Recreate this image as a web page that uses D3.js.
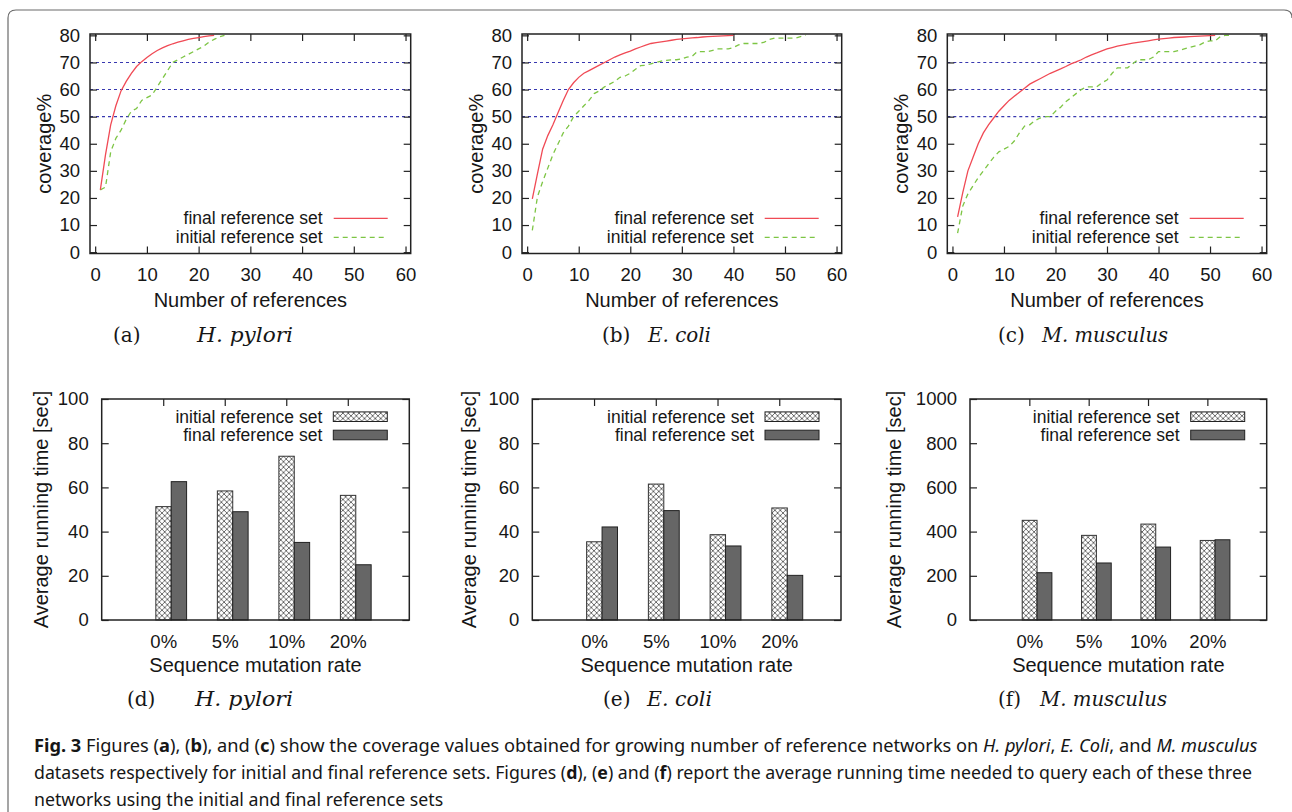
<!DOCTYPE html>
<html>
<head>
<meta charset="utf-8">
<script src="https://cdn.jsdelivr.net/npm/d3@7"></script>
<style>
body { margin: 0; background: #fff; }
svg text { font-family: "Liberation Sans", Arial, Helvetica, sans-serif; fill: #161616; }
svg text.serif { font-family: "DejaVu Serif", "Liberation Serif", serif; }
svg text.cap { font-family: "Noto Sans", "Open Sans", sans-serif; }
</style>
</head>
<body>
<svg id="fig" width="1292" height="812"></svg>
<script>
// ---- data ----
var refTicks = [0, 10, 20, 30, 40, 50, 60];
var coverageTicks = [0, 10, 20, 30, 40, 50, 60, 70, 80];
var coverageLevels = [50, 60, 70];

// coverage% for 1..N references
var hpyloriFinal = [23, 36, 47, 54, 59.5, 63, 66, 68.5, 70.3, 71.8, 73.2, 74.4, 75.4, 76.2, 76.9,
    77.5, 78, 78.5, 78.9, 79.2, 79.5, 79.8, 80];
var hpyloriInitial = [23, 24, 37, 42, 45, 49, 52, 53, 56, 57, 58, 61, 64, 67, 70, 71, 72, 73, 74,
    75, 76, 77.5, 78.5, 79.5, 80];
var ecoliFinal = [19.7, 29, 38, 43, 47, 51.5, 56, 60, 62.5, 64.5, 66, 67, 68, 69, 70, 71, 72, 72.8,
    73.5, 74.2, 75, 75.7, 76.4, 77, 77.3, 77.6, 77.9, 78.2, 78.5, 78.7, 78.9, 79.1, 79.2, 79.4,
    79.5, 79.6, 79.7, 79.8, 79.9, 80];
var ecoliInitial = [8, 20.5, 26, 31, 36, 40, 44, 46.5, 50, 52, 54, 56, 58.5, 59.5, 61, 62, 63, 64.5,
    65, 66, 67.5, 68.8, 69, 69.5, 70, 70.5, 70.8, 71, 71, 71.3, 72, 72.3, 74, 74, 74, 74.5, 75, 75,
    75, 75.5, 76.5, 77, 77, 77, 77, 77.5, 78.5, 79, 79, 79, 79, 79, 79.5, 80];
var musculusFinal = [13, 22, 30, 35, 40, 44, 47, 49.5, 52, 54, 56, 57.5, 59, 60.5, 62, 63, 64, 65,
    66, 66.8, 67.6, 68.5, 69.5, 70.2, 71, 72, 72.8, 73.5, 74.3, 75, 75.5, 76, 76.4, 76.8, 77.1,
    77.4, 77.7, 78, 78.3, 78.6, 78.8, 79, 79.2, 79.3, 79.4, 79.5, 79.6, 79.7, 79.8, 79.9, 80];
var musculusInitial = [7, 17, 21.5, 24.5, 27.5, 30, 32.5, 35, 37, 38, 39, 41, 44, 46.5, 47, 48.5,
    49.5, 50, 50, 52, 53.5, 55.5, 57, 58.5, 60, 61, 61, 61, 62.5, 63.5, 66, 68, 68, 68, 69.5, 71,
    71, 71, 72, 74, 74, 74, 74, 74.5, 75, 75.5, 76, 76.5, 77.5, 78, 78, 79.5, 80, 80];

// average running time [sec]
var mutationRates = ["0%", "5%", "10%", "20%"];
var hpyloriTimeInitial = [51.3, 58.4, 74.1, 56.4];
var hpyloriTimeFinal = [62.6, 49, 35.1, 25];
var ecoliTimeInitial = [35.4, 61.5, 38.6, 50.7];
var ecoliTimeFinal = [42.1, 49.5, 33.5, 20.2];
var musculusTimeInitial = [451, 383, 434, 360];
var musculusTimeFinal = [214, 258, 330, 363];
var timeTicksSmall = [0, 20, 40, 60, 80, 100];
var timeTicksLarge = [0, 200, 400, 600, 800, 1000];

var legendNames = ["final reference set", "initial reference set"];

var svg = d3.select("#fig");

// Outer frame with rounded corners
svg.append("path")
    .attr("d", "M8,812 V18 Q8,10 16,10 H1284 Q1292,10 1292,18")
    .attr("fill", "none")
    .attr("stroke", "#6a6a6a")
    .attr("stroke-width", 1.2);

// Cross-hatch pattern for the initial set bars
var defs = svg.append("defs");
var pat = defs.append("pattern")
    .attr("id", "hatch")
    .attr("patternUnits", "userSpaceOnUse")
    .attr("width", 5.4).attr("height", 5.4);
pat.append("rect").attr("width", 5.4).attr("height", 5.4).attr("fill", "#fff");
pat.append("path").attr("d", "M0,0L5.4,5.4M5.4,0L0,5.4")
    .attr("stroke", "#4a4a4a").attr("stroke-width", 0.8);

function styleAxis(sel, size) {
    sel.attr("color", "#222");
    sel.select(".domain").remove();
    sel.selectAll("line").attr("stroke-width", 1.2);
    sel.selectAll("text").style("font-size", size + "px").attr("fill", "#161616");
}

function subCaption(p) {
    svg.append("text").attr("class", "serif")
        .attr("x", p.capX).attr("y", p.capY)
        .style("font-size", "20px").text(p.letter);
    svg.append("text").attr("class", "serif")
        .attr("x", p.spX).attr("y", p.capY)
        .attr("textLength", p.spW).attr("lengthAdjust", "spacingAndGlyphs")
        .style("font-size", "19.5px").style("font-style", "italic").text(p.species);
}

// Coverage vs number of references
function coveragePanel(p) {
    var g = svg.append("g");
    var x = d3.scaleLinear().domain([-1, 61]).range([p.left, p.right]);
    var y = d3.scaleLinear().domain([-0.5, 80.5]).range([p.bottom, p.top]);

    g.selectAll(".level").data(coverageLevels).enter().append("line")
        .attr("x1", p.left).attr("x2", p.right)
        .attr("y1", function (d) { return y(d); })
        .attr("y2", function (d) { return y(d); })
        .attr("stroke", "#3838b0").attr("stroke-width", 1.1)
        .attr("stroke-dasharray", "3,3");

    g.append("g").attr("transform", "translate(" + p.left + ",0)")
        .call(d3.axisLeft(y).tickValues(coverageTicks).tickSize(-7).tickPadding(10))
        .call(styleAxis, 18.5);
    g.append("g").attr("transform", "translate(" + p.right + ",0)")
        .call(d3.axisRight(y).tickValues(coverageTicks).tickSize(-7).tickFormat(""))
        .call(styleAxis, 18.5);
    g.append("g").attr("transform", "translate(0," + p.bottom + ")")
        .call(d3.axisBottom(x).tickValues(refTicks).tickSize(-7).tickPadding(14))
        .call(styleAxis, 18.5);
    g.append("g").attr("transform", "translate(0," + p.top + ")")
        .call(d3.axisTop(x).tickValues(refTicks).tickSize(-7).tickFormat(""))
        .call(styleAxis, 18.5);

    var line = d3.line()
        .x(function (d, i) { return x(i + 1); })
        .y(function (d) { return y(d); });

    g.append("path").datum(p.initial).attr("d", line)
        .attr("fill", "none").attr("stroke", "#7dc544").attr("stroke-width", 1.3)
        .attr("stroke-dasharray", "5,4");
    g.append("path").datum(p.final).attr("d", line)
        .attr("fill", "none").attr("stroke", "#f04a55").attr("stroke-width", 1.3);

    g.append("rect")
        .attr("x", p.left).attr("y", p.top)
        .attr("width", p.right - p.left).attr("height", p.bottom - p.top)
        .attr("fill", "none").attr("stroke", "#222").attr("stroke-width", 1.5);

    // legend
    var rows = [
        { name: legendNames[0], y: p.bottom - 35.2, color: "#f04a55", dash: null },
        { name: legendNames[1], y: p.bottom - 16.2, color: "#7dc544", dash: "5,4" }
    ];
    rows.forEach(function (r) {
        g.append("text").attr("x", p.right - 88).attr("y", r.y).attr("dy", "0.35em")
            .attr("text-anchor", "end").style("font-size", "17.5px").text(r.name);
        g.append("line").attr("x1", p.right - 77).attr("x2", p.right - 23)
            .attr("y1", r.y).attr("y2", r.y)
            .attr("stroke", r.color).attr("stroke-width", 1.3)
            .attr("stroke-dasharray", r.dash);
    });

    g.append("text")
        .attr("transform", "translate(" + (p.left - 46) + "," + ((p.top + p.bottom) / 2) + ") rotate(-90)")
        .attr("text-anchor", "middle").attr("dy", "0.35em")
        .style("font-size", "20px").text("coverage%");
    g.append("text")
        .attr("x", (p.left + p.right) / 2).attr("y", 307)
        .attr("text-anchor", "middle").style("font-size", "20px")
        .text("Number of references");

    subCaption(p);
}

// Average running time bars
function timePanel(p) {
    var g = svg.append("g");
    var x = d3.scaleLinear().domain([-1, 4]).range([p.left, p.right]);
    var y = d3.scaleLinear().domain([0, p.max]).range([p.bottom, p.top]);

    g.append("g").attr("transform", "translate(" + p.left + ",0)")
        .call(d3.axisLeft(y).tickValues(p.ticks).tickSize(-7).tickPadding(13).tickFormat(d3.format("d")))
        .call(styleAxis, 18.5);
    g.append("g").attr("transform", "translate(" + p.right + ",0)")
        .call(d3.axisRight(y).tickValues(p.ticks).tickSize(-7).tickFormat(""))
        .call(styleAxis, 18.5);
    g.append("g").attr("transform", "translate(0," + p.top + ")")
        .call(d3.axisTop(x).tickValues([0, 1, 2, 3]).tickSize(-7).tickFormat(""))
        .call(styleAxis, 18.5);
    g.append("g").attr("transform", "translate(0," + p.bottom + ")")
        .call(d3.axisBottom(x).tickValues([0, 1, 2, 3]).tickSize(0).tickPadding(15)
            .tickFormat(function (d) { return mutationRates[d]; }))
        .call(styleAxis, 18.5);

    g.selectAll(".binit").data(p.initial).enter().append("rect")
        .attr("x", function (d, i) { return x(i - 0.12); })
        .attr("width", x(0.25) - x(0))
        .attr("y", function (d) { return y(d); })
        .attr("height", function (d) { return y(0) - y(d); })
        .attr("fill", "url(#hatch)").attr("stroke", "#333").attr("stroke-width", 1);
    g.selectAll(".bfin").data(p.final).enter().append("rect")
        .attr("x", function (d, i) { return x(i + 0.13); })
        .attr("width", x(0.25) - x(0))
        .attr("y", function (d) { return y(d); })
        .attr("height", function (d) { return y(0) - y(d); })
        .attr("fill", "#666").attr("stroke", "#222").attr("stroke-width", 1);

    g.append("rect")
        .attr("x", p.left).attr("y", p.top)
        .attr("width", p.right - p.left).attr("height", p.bottom - p.top)
        .attr("fill", "none").attr("stroke", "#222").attr("stroke-width", 1.5);

    // legend
    var rows = [
        { name: legendNames[1], y: p.top + 17.7, fill: "url(#hatch)" },
        { name: legendNames[0], y: p.top + 36, fill: "#666" }
    ];
    rows.forEach(function (r) {
        g.append("text").attr("x", p.right - 87).attr("y", r.y).attr("dy", "0.35em")
            .attr("text-anchor", "end").style("font-size", "17.5px").text(r.name);
        g.append("rect").attr("x", p.right - 76).attr("y", r.y - 4.8)
            .attr("width", 54).attr("height", 9.6)
            .attr("fill", r.fill).attr("stroke", "#222").attr("stroke-width", 1);
    });

    g.append("text")
        .attr("transform", "translate(" + (p.left - p.labelOff) + "," + ((p.top + p.bottom) / 2) + ") rotate(-90)")
        .attr("text-anchor", "middle").attr("dy", "0.35em")
        .style("font-size", "20px").text("Average running time [sec]");
    g.append("text")
        .attr("x", (p.left + p.right) / 2).attr("y", 672)
        .attr("text-anchor", "middle").style("font-size", "20px")
        .text("Sequence mutation rate");

    subCaption(p);
}

coveragePanel({ left: 90, right: 410.7, top: 34, bottom: 253.5,
    final: hpyloriFinal, initial: hpyloriInitial,
    letter: "(a)", species: "H. pylori", capX: 113, spX: 197, spW: 96, capY: 342 });
coveragePanel({ left: 522, right: 841.7, top: 34, bottom: 253.5,
    final: ecoliFinal, initial: ecoliInitial,
    letter: "(b)", species: "E. coli", capX: 602, spX: 648, spW: 63, capY: 342 });
coveragePanel({ left: 947.3, right: 1266.7, top: 34, bottom: 253.5,
    final: musculusFinal, initial: musculusInitial,
    letter: "(c)", species: "M. musculus", capX: 998, spX: 1042, spW: 126, capY: 342 });

timePanel({ left: 101.7, right: 409.3, top: 399, bottom: 620, max: 100, ticks: timeTicksSmall,
    initial: hpyloriTimeInitial, final: hpyloriTimeFinal, labelOff: 61,
    letter: "(d)", species: "H. pylori", capX: 127, spX: 195, spW: 98, capY: 706 });
timePanel({ left: 532.3, right: 841, top: 399, bottom: 620, max: 100, ticks: timeTicksSmall,
    initial: ecoliTimeInitial, final: ecoliTimeFinal, labelOff: 63,
    letter: "(e)", species: "E. coli", capX: 603, spX: 647, spW: 65, capY: 706 });
timePanel({ left: 970, right: 1266.7, top: 399, bottom: 620, max: 1000, ticks: timeTicksLarge,
    initial: musculusTimeInitial, final: musculusTimeFinal, labelOff: 76,
    letter: "(f)", species: "M. musculus", capX: 998, spX: 1040, spW: 127, capY: 706 });

// Figure caption: each line squeezed horizontally to the width it has in the figure
var captionLines = [
    { y: 752, w: 1224, parts: [["Fig. 3", "b"], [" Figures (", ""], ["a", "b"], ["), (", ""], ["b", "b"],
        ["), and (", ""], ["c", "b"], [") show the coverage values obtained for growing number of reference networks on ", ""],
        ["H. pylori", "i"], [", ", ""], ["E. Coli", "i"], [", and ", ""], ["M. musculus", "i"]] },
    { y: 779, w: 1219, parts: [["datasets respectively for initial and final reference sets. Figures (", ""], ["d", "b"],
        ["), (", ""], ["e", "b"], [") and (", ""], ["f", "b"],
        [") report the average running time needed to query each of these three", ""]] },
    { y: 806, w: null, parts: [["networks using the initial and final reference sets", ""]] }
];
var lastScale = 1;
captionLines.forEach(function (l) {
    var t = svg.append("text").attr("class", "cap")
        .attr("x", 0).attr("y", 0)
        .style("font-size", "18.5px").attr("fill", "#222");
    l.parts.forEach(function (p) {
        t.append("tspan")
            .style("font-weight", p[1] === "b" ? "700" : "400")
            .style("font-style", p[1] === "i" ? "italic" : "normal")
            .text(p[0]);
    });
    var s = l.w ? l.w / t.node().getComputedTextLength() : lastScale;
    lastScale = s;
    t.attr("transform", "translate(34," + l.y + ") scale(" + s + ",1)");
});
</script>
</body>
</html>
